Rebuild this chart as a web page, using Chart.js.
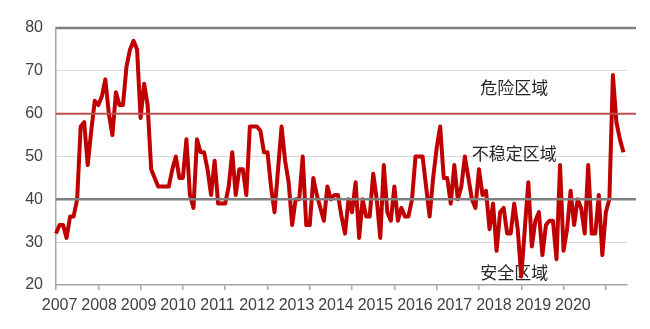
<!DOCTYPE html>
<html>
<head>
<meta charset="utf-8">
<script src="https://cdn.jsdelivr.net/npm/chart.js@4.4.1/dist/chart.umd.min.js"></script>
<style>
  html, body { margin: 0; padding: 0; background: #fff; }
  #wrap { width: 650px; height: 329px; position: relative; }
</style>
</head>
<body>
<div id="wrap"><canvas id="stressChart"></canvas></div>
<script>
/* Monthly index values, one array per year */
const v2007 = [32, 34, 34, 31, 36, 36, 40, 57, 58, 48, 56, 63];
const v2008 = [62, 64, 68, 60, 55, 65, 62, 62, 71, 75, 77, 75];
const v2009 = [59, 67, 62, 47, 45, 43, 43, 43, 43, 47, 50, 45];
const v2010 = [45, 54, 41, 38, 54, 51, 51, 47, 41, 49, 39, 39];
const v2011 = [39, 43, 51, 41, 47, 47, 41, 57, 57, 57, 56, 51];
const v2012 = [51, 43, 37, 47, 57, 49, 44, 34, 40, 40, 50, 34];
const v2013 = [34, 45, 41, 38, 35, 43, 40, 41, 41, 36, 32, 40];
const v2014 = [37, 44, 31, 40, 36, 36, 46, 40, 31, 48, 37, 35];
const v2015 = [43, 35, 38, 36, 36, 40, 50, 50, 50, 43, 36, 45];
const v2016 = [52, 57, 45, 45, 39, 48, 40, 43, 50, 45, 40, 38];
const v2017 = [47, 41, 42, 33, 39, 28, 37, 38, 32, 32, 39, 33];
const v2018 = [22, 33, 44, 29, 35, 37, 27, 34, 35, 35, 26, 48];
const v2019 = [28, 33, 42, 34, 40, 38, 32, 48, 32, 32, 41, 27];
const v2020 = [37, 40, 69, 58, 54, 51];

const yearLabels = [2007, 2008, 2009, 2010, 2011, 2012, 2013, 2014, 2015, 2016, 2017, 2018, 2019, 2020];
const zoneLevels = [80, 60, 40];
const zoneNames = ['危险区域', '不稳定区域', '安全区域'];

const series = [].concat(v2007, v2008, v2009, v2010, v2011, v2012, v2013,
  v2014, v2015, v2016, v2017, v2018, v2019, v2020);

// one category per month, plus one empty slot at the end
const months = [];
for (let i = 0; i <= series.length; i++) {
  months.push(yearLabels[0] + Math.floor(i / 12) + '-' + (i % 12 + 1));
}

const FONT = 'Liberation Sans';
const TEXT = '#404040';

/** Zone names, drawn under the line */
const zoneText = {
  id: 'zoneText',
  beforeDatasetsDraw(chart) {
    const { ctx, scales: { x, y } } = chart;
    const at = [66, 50.6, 23];
    ctx.save();
    ctx.font = '17px "Noto Sans CJK SC"';
    ctx.fillStyle = '#262626';
    ctx.textAlign = 'center';
    ctx.textBaseline = 'middle';
    zoneNames.forEach((name, i) => {
      ctx.fillText(name, x.getPixelForValue(130), y.getPixelForValue(at[i]));
    });
    ctx.restore();
  },
};

/** The 80 / 60 / 40 boundary lines, drawn over the line */
const zoneLines = {
  id: 'zoneLines',
  afterDatasetsDraw(chart) {
    const { ctx, chartArea, scales: { y } } = chart;
    ctx.save();
    zoneLevels.forEach(level => {
      const py = y.getPixelForValue(level);
      ctx.beginPath();
      ctx.strokeStyle = level === 60 ? '#c0504d' : '#7f7f7f';
      ctx.lineWidth = level === 60 ? 2 : 2.5;
      ctx.moveTo(chartArea.left, py);
      ctx.lineTo(chartArea.right + 9, py);
      ctx.stroke();
    });
    ctx.restore();
  },
};

new Chart(document.getElementById('stressChart'), {
  type: 'line',
  data: {
    labels: months,
    datasets: [{
      data: series,
      xAxisID: 'x',
      yAxisID: 'y',
      borderColor: '#c00000',
      borderWidth: 4,
      borderJoinStyle: 'round',
      pointRadius: 0,
      tension: 0,
      fill: false,
    }],
  },
  options: {
    responsive: true,
    maintainAspectRatio: false,
    animation: false,
    layout: { padding: { left: 0, right: 23, top: 28, bottom: 0 } },
    plugins: { legend: { display: false }, tooltip: { enabled: false } },
    scales: {
      x: {
        type: 'category',
        offset: false,
        weight: 0,
        ticks: { display: false },
        grid: {
          drawOnChartArea: false,
          tickLength: 5,
          lineWidth: 1.5,
          color: ctx => (ctx.index % 12 === 0 ? '#a6a6a6' : 'rgba(0,0,0,0)'),
        },
        border: { color: '#a6a6a6', width: 1.5 },
        afterFit: s => { s.height = 5; },
      },
      years: {
        type: 'linear',
        position: 'bottom',
        weight: 1,
        min: 2006.91,
        max: 2021.37,
        afterBuildTicks: s => { s.ticks = yearLabels.map(v => ({ value: v })); },
        ticks: {
          autoSkip: false,
          maxRotation: 0,
          padding: 6,
          color: TEXT,
          font: { family: FONT, size: 16 },
          callback: v => String(v),
        },
        grid: { display: false, drawTicks: false },
        border: { display: false },
        afterFit: s => { s.height = 39; },
      },
      y: {
        min: 20,
        max: 80,
        ticks: { stepSize: 10, padding: 13, color: TEXT, font: { family: FONT, size: 16 } },
        grid: {
          drawTicks: false,
          lineWidth: 1,
          color: ctx => ([30, 50, 70].includes(ctx.tick.value) ? '#d9d9d9' : 'rgba(0,0,0,0)'),
        },
        border: { color: '#a6a6a6', width: 1.5 },
        afterFit: s => { s.width = 56; },
      },
    },
  },
  plugins: [zoneText, zoneLines],
});
</script>
</body>
</html>
